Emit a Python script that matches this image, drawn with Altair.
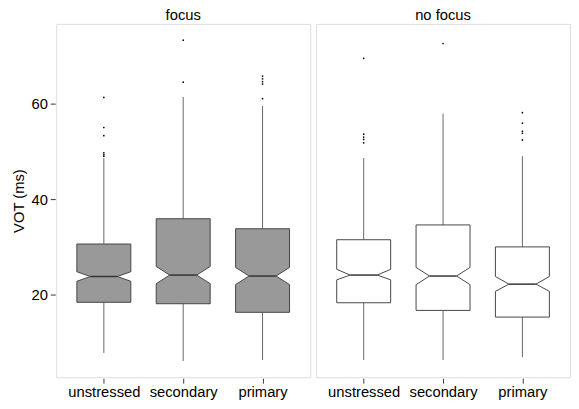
import altair as alt
import pandas as pd

# ---- data ----
conditions = ["focus", "focus", "focus", "no focus", "no focus", "no focus"]
stress = ["unstressed", "secondary", "primary", "unstressed", "secondary", "primary"]
stress_pos = [1, 2, 3, 1, 2, 3]
q1 = [18.4, 18.1, 16.3, 18.3, 16.7, 15.3]
median = [23.8, 24.1, 23.9, 24.1, 23.9, 22.2]
q3 = [30.6, 35.9, 33.8, 31.5, 34.6, 30.0]
notch_lo = [22.8, 22.3, 22.1, 23.1, 22.1, 20.7]
notch_hi = [24.8, 25.9, 25.7, 25.3, 25.7, 23.8]
whisk_lo = [7.8, 6.1, 6.3, 6.3, 6.3, 6.9]
whisk_hi = [48.6, 61.4, 59.5, 48.6, 57.9, 49.0]
outliers = [
    [61.3, 55.0, 53.3, 49.7, 49.3, 49.0],
    [73.3, 64.5],
    [65.75, 65.2, 64.6, 64.1, 61.05],
    [69.5, 53.6, 53.0, 52.5, 51.8],
    [72.6],
    [58.1, 55.9, 54.2, 53.8, 52.4],
]
tick_values = [20, 40, 60]

HALF = 0.34          # box half width (x units)
NOTCH = 0.5          # notch width relative to box
FS = 15

rows = []
for i in range(6):
    c, x = conditions[i], stress_pos[i]
    key = f"{c}-{x}"
    for yv, hw in [(q1[i], HALF), (notch_lo[i], HALF), (median[i], HALF * NOTCH),
                   (notch_hi[i], HALF), (q3[i], HALF)]:
        rows.append(dict(kind="poly", cond=c, key=key, y=yv, xl=x - hw, xr=x + hw))
    rows.append(dict(kind="box", cond=c, key=key, x=x, q1=q1[i], q3=q3[i],
                     med=median[i], wlo=whisk_lo[i], whi=whisk_hi[i],
                     ml=x - HALF * NOTCH, mr=x + HALF * NOTCH))
    for o in outliers[i]:
        rows.append(dict(kind="out", cond=c, key=key, x=x, y=o))
df = pd.DataFrame(rows)

xscale = alt.Scale(domain=[0.4, 3.6], nice=False, zero=False)
yscale = alt.Scale(domain=[2.7, 76.7], nice=False, zero=False)
label_expr = "datum.value == 1 ? 'unstressed' : datum.value == 2 ? 'secondary' : 'primary'"
xaxis = alt.Axis(values=[1, 2, 3], labelExpr=label_expr, title=None, grid=False,
                 domain=False, tickSize=5, tickColor="#333333", labelPadding=2,
                 labelFontSize=FS, labelColor="#000000", labelFont="Liberation Sans")
yaxis = alt.Axis(values=tick_values, title="VOT (ms)", grid=False, domain=False,
                 tickSize=5, tickColor="#333333", labelPadding=3, labelFontSize=FS,
                 labelColor="#000000", labelFont="Liberation Sans", titleFontSize=FS,
                 titleFontWeight="normal", titleFont="Liberation Sans", titlePadding=5)

fill_scale = alt.Scale(domain=["focus", "no focus"], range=["#999999", "#ffffff"])

base = alt.Chart()

whisk_up = base.transform_filter(alt.datum.kind == "box").mark_rule(
    color="#666666", strokeWidth=1).encode(
    x=alt.X("x:Q", scale=xscale, axis=xaxis),
    y=alt.Y("q3:Q", scale=yscale, axis=yaxis),
    y2="whi:Q")
whisk_dn = base.transform_filter(alt.datum.kind == "box").mark_rule(
    color="#666666", strokeWidth=1).encode(
    x=alt.X("x:Q", scale=xscale), y=alt.Y("wlo:Q", scale=yscale), y2="q1:Q")

poly = base.transform_filter(alt.datum.kind == "poly").mark_area(
    orient="horizontal", stroke="#444444", strokeWidth=1, interpolate="linear").encode(
    y=alt.Y("y:Q", scale=yscale),
    x=alt.X("xl:Q", scale=xscale),
    x2="xr:Q",
    detail="key:N",
    fill=alt.Fill("cond:N", scale=fill_scale, legend=None))

med_line = base.transform_filter(alt.datum.kind == "box").mark_rule(
    color="#333333", strokeWidth=1.5).encode(
    x=alt.X("ml:Q", scale=xscale), x2="mr:Q", y=alt.Y("med:Q", scale=yscale))

pts = base.transform_filter(alt.datum.kind == "out").mark_circle(
    color="#000000", size=3, opacity=1).encode(
    x=alt.X("x:Q", scale=xscale), y=alt.Y("y:Q", scale=yscale))

layer = alt.layer(whisk_up, whisk_dn, poly, med_line, pts).properties(width=258, height=359)

chart = layer.facet(
    column=alt.Column("cond:N", sort=["focus", "no focus"],
                      header=alt.Header(title=None, labelFontSize=FS, labelFont="Liberation Sans",
                                        labelColor="#000000", labelPadding=0)),
    data=df,
    spacing=4,
).properties(
    padding={"left": 3, "top": -3, "right": 0, "bottom": 0}
).configure_view(
    stroke="#8c8c8c", strokeWidth=1, fill="#ffffff"
).configure(background="#ffffff")

chart.save("out.html", embed_options={"renderer": "svg", "actions": False})
